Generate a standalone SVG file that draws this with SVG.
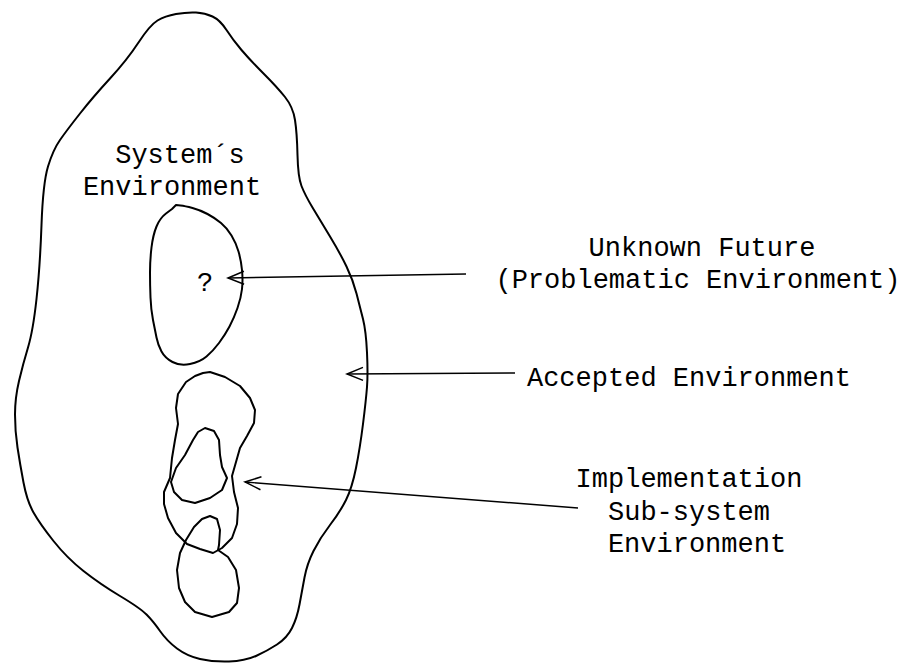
<svg xmlns="http://www.w3.org/2000/svg" width="908" height="663" viewBox="0 0 908 663">
<style>
.blob{fill:none;stroke:#000;stroke-width:2;stroke-linejoin:round;stroke-linecap:round}
.conn{fill:none;stroke:#000;stroke-width:1.4}
.lbl{font-family:"Liberation Mono","DejaVu Sans Mono",monospace;font-size:27px;fill:#000;text-anchor:middle}
</style>
<defs>
<marker id="ah" markerUnits="userSpaceOnUse" markerWidth="24" markerHeight="16" viewBox="-1 -8 20 16" refX="17" refY="0" orient="auto">
<path d="M1,-6.5 L17,0 L1,6.5" fill="none" stroke="#000" stroke-width="1.5"/>
</marker>
</defs>
<rect width="908" height="663" fill="#fff"/>
<g id="systems-environment">
<path class="blob" d="M138.5,42.5 Q150,25 157.5,20.5 Q165,16 176,14 Q187,12 196,12.5 Q205,13 212.5,16.5 Q220,20 226.5,30 Q233,40 241.5,50 Q250,60 263.5,73.5 Q277,87 285,97 Q293,107 295,120 Q297,133 297.5,155 Q298,177 301.5,186 Q305,195 312.5,207.5 Q320,220 330,236.5 Q340,253 346.5,266.5 Q353,280 356.5,293.5 Q360,307 363,319 Q366,331 367,352.5 Q368,374 367,387 Q366,400 363,424 Q360,448 356,468 Q352,488 346,500 Q340,512 330,525 Q320,538 313.5,551 Q307,564 304.5,577.5 Q302,591 299.5,604.5 Q297,618 292,628 Q287,638 277,644.5 Q267,651 256,656 Q245,661 229,661.5 Q213,662 200,659 Q187,656 177,648.5 Q167,641 160,631 Q153,621 146.5,614.5 Q140,608 120,596 Q100,584 83.5,571 Q67,558 53.5,541 Q40,524 33.5,512.5 Q27,501 23.5,482.5 Q20,464 17.5,447.5 Q15,431 15,414.5 Q15,398 19,381 Q23,364 28,347.5 Q33,331 36.5,299 Q40,267 41.5,225 Q43,183 48,166.5 Q53,150 60,140 Q67,130 80,113.5 Q93,97 110,78.5 Q127,60 138.5,42.5 Z"/>
<text class="lbl" x="180" y="163">System´s</text>
<text class="lbl" x="172" y="195">Environment</text>
</g>
<g id="unknown-future">
<path class="blob" d="M166,213.5 L172,209 L176,205 L180.5,205.5 Q185,206 192.5,208 Q200,210 207.5,214 Q215,218 221,223 Q227,228 231.5,235.5 Q236,243 238.5,251.5 Q241,260 242,270 Q243,280 242,289 Q241,298 237.5,308 Q234,318 229.5,326.5 Q225,335 219,343 Q213,351 206.5,356.5 Q200,362 190,364 Q180,366 172.5,362 Q165,358 161.5,351.5 Q158,345 156.5,337.5 Q155,330 153,320 Q151,310 150.5,297.5 Q150,285 150,272.5 Q150,260 151.5,247.5 Q153,235 156.5,226.5 Q160,218 166,213.5 Z"/>
<text class="lbl" x="205" y="291">?</text>
</g>
<g id="implementation-subsystems">
<path class="blob" d="M203,373 L210,372 L225,377 L240,386 L250,398 L255,410 L254,423 L247,436 L240,448 L236,462 L232,476 L234,492 L238,508 L237,524 L232,538 L222,548 L213,553 L200,549 L187,544 L176,533 L168,518 L164,504 L164,492 L170,478 L172,458 L175,440 L178,424 L176,408 L178,394 L186,382 L195,376 Z"/>
<path class="blob" d="M205,428 L214,431 L219,440 L220,455 L222,467 L227,478 L222,490 L210,498 L195,503 L182,500 L174,492 L171,482 L176,468 L185,455 L193,440 L198,432 Z"/>
<path class="blob" d="M210,516 L217,519 L220,530 L219,545 L218,550 L228,557 L236,570 L239,588 L237,603 L229,612 L212,617 L195,612 L185,602 L179,588 L177,570 L180,553 L186,540 L194,527 L202,519 Z"/>
</g>
<g id="label-unknown">
<text class="lbl" x="702" y="256">Unknown Future</text>
<text class="lbl" x="698" y="288">(Problematic Environment)</text>
</g>
<g id="label-accepted">
<text class="lbl" x="689" y="386">Accepted Environment</text>
</g>
<g id="label-implementation">
<text class="lbl" x="689" y="487">Implementation</text>
<text class="lbl" x="689" y="520">Sub-system</text>
<text class="lbl" x="697" y="552">Environment</text>
</g>
<g id="connectors">
<path class="conn" d="M466,274 L228,278" marker-end="url(#ah)"/>
<path class="conn" d="M515,373 L347,374" marker-end="url(#ah)"/>
<path class="conn" d="M578,508 L245,482" marker-end="url(#ah)"/>
</g>
</svg>
